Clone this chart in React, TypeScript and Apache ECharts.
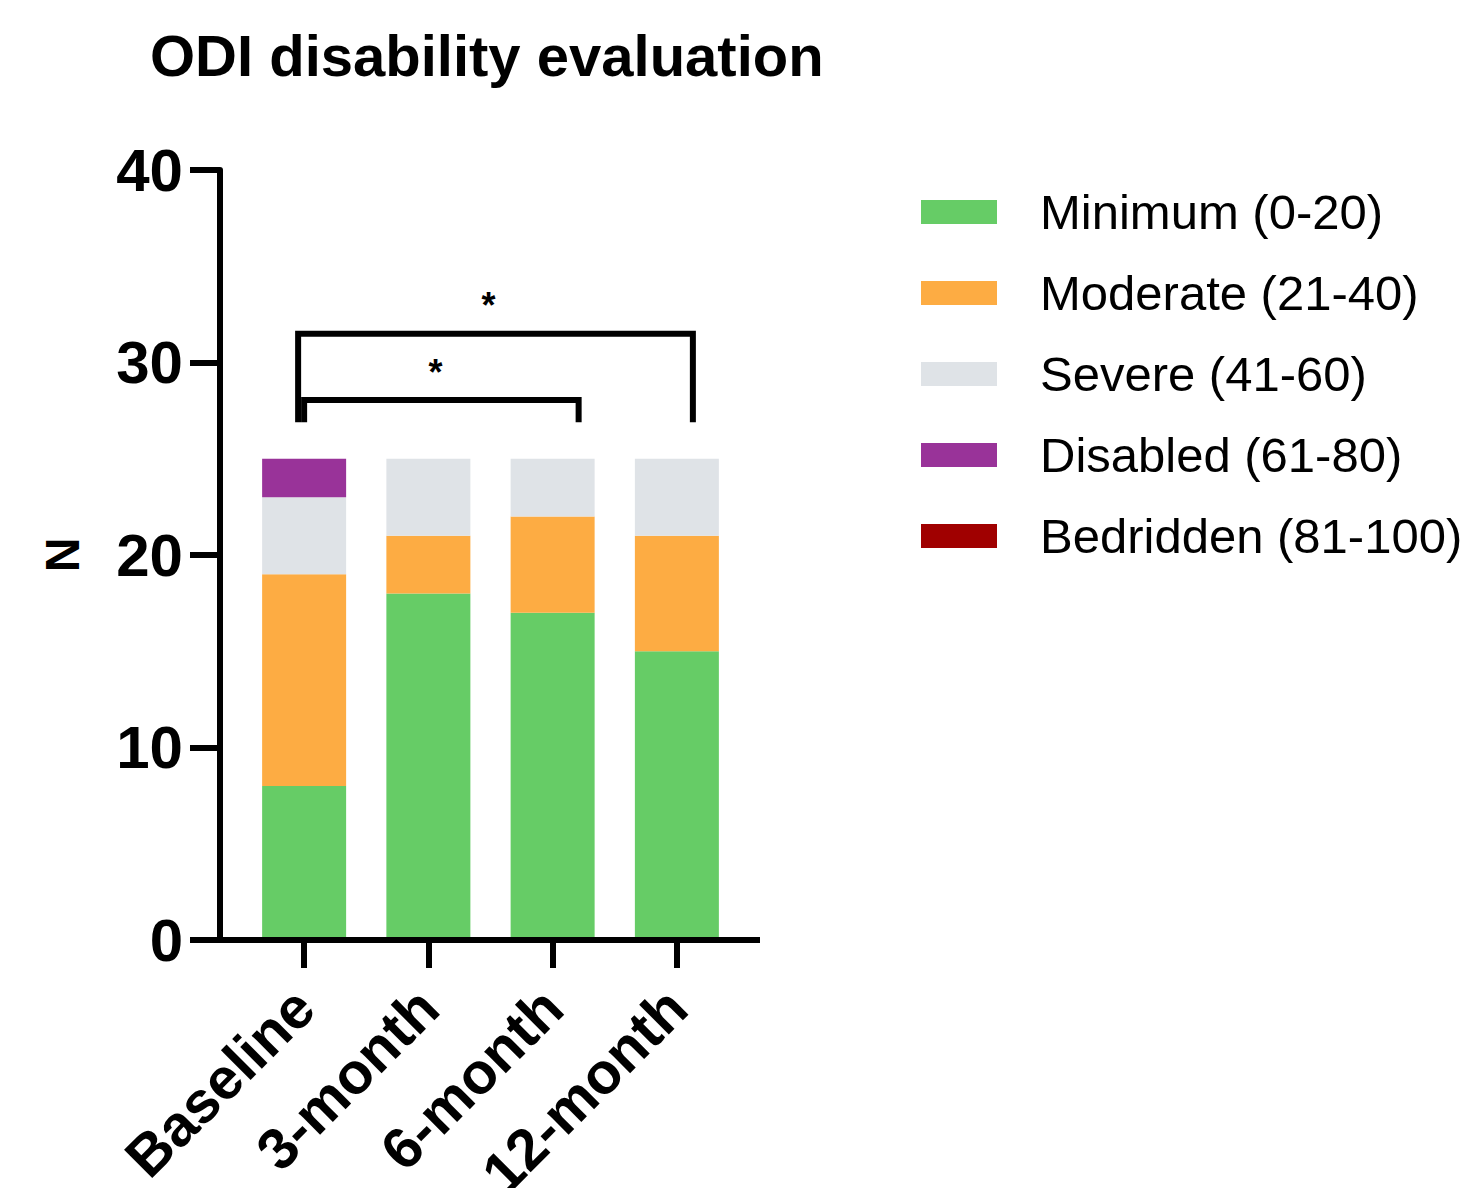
import React, { useEffect, useRef } from "react";
import * as echarts from "echarts";

const categories = ["Baseline", "3-month", "6-month", "12-month"];
const seriesNames = [
  "Minimum (0-20)",
  "Moderate (21-40)",
  "Severe (41-60)",
  "Disabled (61-80)",
  "Bedridden (81-100)",
];
const minimum = [8, 18, 17, 15];
const moderate = [11, 3, 5, 6];
const severe = [4, 4, 3, 4];
const disabled = [2, 0, 0, 0];
const bedridden = [0, 0, 0, 0];
const seriesColors = ["#66CC66", "#FDAC43", "#DFE3E7", "#993399", "#A00000"];
const yMin = 0;
const yMax = 40;
const yInterval = 10;
// significance brackets: from category, to category, bar level, leg bottom level, label
const bracketFrom = [0, 0];
const bracketTo = [2, 3];
const bracketLevel = [28.05, 31.5];
const bracketLegBottom = [26.9, 26.9];
const bracketLabel = ["*", "*"];

const FONT = "'Liberation Sans', Arial, Helvetica, sans-serif";

export default function App() {
  const ref = useRef<HTMLDivElement>(null);

  useEffect(() => {
    document.body.style.margin = "0";
    const el = ref.current!;
    const chart = echarts.init(el, undefined, { renderer: "svg" });
    const seriesData = [minimum, moderate, severe, disabled, bedridden];

    chart.setOption({
      animation: false,
      backgroundColor: "#ffffff",
      title: {
        text: "ODI disability evaluation",
        left: 150,
        top: 26,
        padding: 0,
        textStyle: { fontSize: 58, fontWeight: "bold", color: "#000", fontFamily: FONT },
      },
      legend: {
        orient: "vertical",
        left: 921,
        top: 184,
        padding: 0,
        itemWidth: 76,
        itemHeight: 24,
        itemGap: 25,
        icon: "rect",
        data: seriesNames,
        selectedMode: false,
        textStyle: {
          fontSize: 49,
          lineHeight: 56,
          color: "#000",
          fontFamily: FONT,
          padding: [0, 0, 0, 38],
        },
      },
      grid: {
        left: 242,
        top: 170,
        width: 497,
        height: 770,
        outerBoundsMode: "none",
        containLabel: false,
      },
      xAxis: {
        type: "category",
        data: categories,
        axisLine: { show: false },
        axisTick: {
          show: true,
          alignWithLabel: true,
          length: 28,
          lineStyle: { color: "#000", width: 6 },
        },
        axisLabel: {
          interval: 0,
          rotate: 45,
          margin: 58,
          fontSize: 58,
          fontWeight: "bold",
          color: "#000",
          fontFamily: FONT,
        },
        splitLine: { show: false },
      },
      yAxis: {
        type: "value",
        min: yMin,
        max: yMax,
        interval: yInterval,
        offset: 22,
        name: "N",
        nameLocation: "middle",
        nameGap: 134,
        nameRotate: 90,
        nameTextStyle: { fontSize: 48, fontWeight: "bold", color: "#000", fontFamily: FONT },
        axisLine: { show: true, lineStyle: { color: "#000", width: 6 } },
        axisTick: { show: true, length: 30, lineStyle: { color: "#000", width: 6 } },
        axisLabel: {
          margin: 37,
          fontSize: 60,
          fontWeight: "bold",
          color: "#000",
          fontFamily: FONT,
        },
        splitLine: { show: false },
      },
      series: seriesNames.map((name, i) => ({
        name,
        type: "bar",
        stack: "total",
        barWidth: 84,
        data: seriesData[i],
        itemStyle: { color: seriesColors[i] },
      })),
    });

    const px = (i: number) => chart.convertToPixel({ xAxisIndex: 0 }, categories[i]) as number;
    const py = (v: number) => chart.convertToPixel({ yAxisIndex: 0 }, v) as number;

    const graphics: any[] = [];
    // x-axis baseline, extended past the plotting area like the reference
    const y0 = py(yMin);
    graphics.push({
      type: "line",
      shape: { x1: 190, y1: y0, x2: 760, y2: y0 },
      style: { stroke: "#000", lineWidth: 6 },
      z: 10,
    });
    const leftOffsets = [0, -6];
    const rightOffsets = [26, 16];
    const starX = [-6, -7];
    bracketFrom.forEach((from, k) => {
      const x1 = px(from) + leftOffsets[k];
      const x2 = px(bracketTo[k]) + rightOffsets[k];
      const yt = py(bracketLevel[k]);
      const yb = py(bracketLegBottom[k]);
      graphics.push({
        type: "polyline",
        shape: { points: [[x1, yb], [x1, yt], [x2, yt], [x2, yb]] },
        style: { stroke: "#000", lineWidth: 6, fill: null, lineJoin: "miter" },
        z: 10,
      });
      graphics.push({
        type: "text",
        x: (x1 + x2) / 2 + starX[k],
        y: yt - 28,
        style: {
          text: bracketLabel[k],
          fontSize: 36,
          fontWeight: "bold",
          fontFamily: FONT,
          fill: "#000",
          textAlign: "center",
          textVerticalAlign: "middle",
        },
        z: 10,
      });
    });
    chart.setOption({ graphic: graphics });

    return () => chart.dispose();
  }, []);

  return <div ref={ref} style={{ width: 1463, height: 1188, overflow: "hidden" }} />;
}
